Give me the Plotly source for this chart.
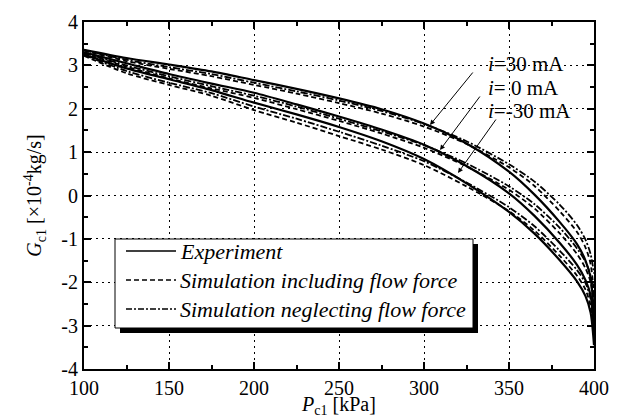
import plotly.graph_objects as go

# ---------------- data ----------------
P_kpa = [100, 125, 150, 175, 200, 225, 250, 275, 300, 325, 350, 365, 380, 390, 395, 398, 400]

exp_p30 = [3.36, 3.17, 3.02, 2.86, 2.66, 2.46, 2.24, 1.99, 1.66, 1.20, 0.55, 0.02, -0.62, -1.12, -1.50, -1.90, -2.80]
inc_p30 = [3.34, 3.10, 2.92, 2.75, 2.55, 2.35, 2.13, 1.89, 1.59, 1.19, 0.65, 0.22, -0.37, -0.84, -1.20, -1.58, -2.30]
neg_p30 = [3.35, 3.13, 2.96, 2.80, 2.60, 2.40, 2.19, 1.95, 1.65, 1.25, 0.72, 0.32, -0.22, -0.68, -1.02, -1.35, -1.80]

exp_0 = [3.30, 3.05, 2.80, 2.58, 2.37, 2.10, 1.82, 1.52, 1.17, 0.68, 0.05, -0.47, -1.10, -1.60, -1.95, -2.30, -3.15]
inc_0 = [3.28, 2.97, 2.70, 2.47, 2.25, 1.99, 1.72, 1.43, 1.10, 0.67, 0.13, -0.30, -0.88, -1.35, -1.68, -2.00, -2.65]
neg_0 = [3.29, 3.00, 2.75, 2.52, 2.30, 2.05, 1.77, 1.48, 1.16, 0.74, 0.21, -0.20, -0.75, -1.22, -1.53, -1.85, -2.35]

exp_m30 = [3.25, 2.93, 2.68, 2.43, 2.14, 1.87, 1.58, 1.25, 0.84, 0.28, -0.38, -0.88, -1.50, -1.98, -2.32, -2.70, -3.45]
inc_m30 = [3.22, 2.82, 2.55, 2.30, 1.97, 1.68, 1.37, 1.06, 0.70, 0.21, -0.36, -0.81, -1.40, -1.85, -2.17, -2.55, -3.20]
neg_m30 = [3.24, 2.87, 2.60, 2.36, 2.05, 1.77, 1.47, 1.15, 0.79, 0.30, -0.27, -0.71, -1.28, -1.72, -2.02, -2.38, -2.90]

x_ticks = [100, 150, 200, 250, 300, 350, 400]
x_tick_labels = ["100", "150", "200", "250", "300", "350", "400"]
y_ticks = [-4, -3, -2, -1, 0, 1, 2, 3, 4]
y_tick_labels = ["-4", "-3", "-2", "-1", "0", "1", "2", "3", "4"]

legend_names = ["Experiment", "Simulation including flow force", "Simulation neglecting flow force"]
current_labels = ["<i>i</i>=30 mA", "<i>i</i>= 0 mA", "<i>i</i>=-30 mA"]

# ---------------- layout helpers ----------------
W, H = 628, 418
L, R, T, B = 84, 34, 22, 49
XMIN, XMAX, YMIN, YMAX = 100, 400, -4, 4
PW, PH = W - L - R, H - T - B

def dx(px):
    return XMIN + (px - L) * (XMAX - XMIN) / PW

def dy(py):
    return YMAX - (py - T) * (YMAX - YMIN) / PH

FONT = "Liberation Serif, Times New Roman, serif"
SOLID = dict(color="black", width=2.2)
DASHED = dict(color="black", width=1.8, dash="5px,3px")
DASHDOT = dict(color="black", width=1.8, dash="7px,2px,2px,2px")

fig = go.Figure()
groups = [(exp_p30, inc_p30, neg_p30), (exp_0, inc_0, neg_0), (exp_m30, inc_m30, neg_m30)]
for e, inc, neg in groups:
    fig.add_trace(go.Scatter(x=P_kpa, y=neg, mode="lines", line=dict(shape="spline", smoothing=0.8, **DASHDOT), showlegend=False))
    fig.add_trace(go.Scatter(x=P_kpa, y=inc, mode="lines", line=dict(shape="spline", smoothing=0.8, **DASHED), showlegend=False))
    fig.add_trace(go.Scatter(x=P_kpa, y=e, mode="lines", line=dict(shape="spline", smoothing=0.8, **SOLID), showlegend=False))

axis_common = dict(
    showline=True, linecolor="black", linewidth=2, mirror="ticks",
    ticks="inside", ticklen=7, tickwidth=1.5, tickcolor="black",
    showgrid=True, gridcolor="black", gridwidth=1, griddash="2px,4px",
    zeroline=False,
    tickfont=dict(family=FONT, size=20, color="black"),
)

fig.update_xaxes(range=[XMIN, XMAX], tickmode="array", tickvals=x_ticks, ticktext=x_tick_labels,
                 minor=dict(dtick=25, ticks="inside", ticklen=4, tickwidth=1.5, tickcolor="black", showgrid=False),
                 title=dict(text="<i>P</i><sub>c1</sub> [kPa]", font=dict(family=FONT, size=20, color="black"), standoff=6),
                 **axis_common)
fig.update_yaxes(range=[YMIN, YMAX], tickmode="array", tickvals=y_ticks, ticktext=y_tick_labels,
                 minor=dict(dtick=0.5, ticks="inside", ticklen=4, tickwidth=1.5, tickcolor="black", showgrid=False),
                 title=dict(text="<i>G</i><sub>c1</sub> [×10<sup>-4</sup>kg/s]", font=dict(family=FONT, size=20, color="black"), standoff=14),
                 **axis_common)

shapes = []
annotations = []

# legend box with shadow
shapes.append(dict(type="rect", xref="x", yref="y", x0=dx(120), x1=dx(478), y0=dy(244), y1=dy(333),
                   fillcolor="black", line=dict(width=0), layer="above"))
shapes.append(dict(type="rect", xref="x", yref="y", x0=dx(115), x1=dx(473), y0=dy(239), y1=dy(328),
                   fillcolor="white", line=dict(color="black", width=1), layer="above"))
row_y = [251, 280, 309]
styles = [dict(color="black", width=1.5), dict(color="black", width=1.5, dash="5px,3px"),
          dict(color="black", width=1.5, dash="6px,2px,2px,2px")]
for name, ry, st in zip(legend_names, row_y, styles):
    shapes.append(dict(type="line", xref="x", yref="y", x0=dx(126), x1=dx(176), y0=dy(ry), y1=dy(ry),
                       line=st, layer="above"))
    annotations.append(dict(x=dx(178), y=dy(ry), xref="x", yref="y", text="<i>" + name + "</i>",
                            showarrow=False, xanchor="left", yanchor="middle",
                            font=dict(family=FONT, size=22, color="black")))

# current labels and arrows
label_y = [64, 88, 111]
heads = [(430, 125), (440, 150), (458, 173)]
tails = [(474, 71), (481, 95), (497, 118)]
for txt, ly, (hx, hy), (tx, ty) in zip(current_labels, label_y, heads, tails):
    annotations.append(dict(x=dx(486), y=dy(ly), xref="x", yref="y", text=txt, showarrow=False,
                            xanchor="left", yanchor="middle", font=dict(family=FONT, size=21, color="black")))
    annotations.append(dict(x=dx(hx), y=dy(hy), xref="x", yref="y", text="", showarrow=True,
                            ax=tx - hx, ay=ty - hy, arrowhead=2, arrowsize=1, arrowwidth=1, arrowcolor="black"))

fig.update_layout(
    width=W, height=H, margin=dict(l=L, r=R, t=T, b=B, autoexpand=False),
    paper_bgcolor="white", plot_bgcolor="white",
    font=dict(family=FONT, color="black"),
    shapes=shapes, annotations=annotations, showlegend=False,
)

fig.write_html("out.html", config={"displayModeBar": False},
               post_script="document.body.style.margin='0px';document.body.style.overflow='hidden';")
